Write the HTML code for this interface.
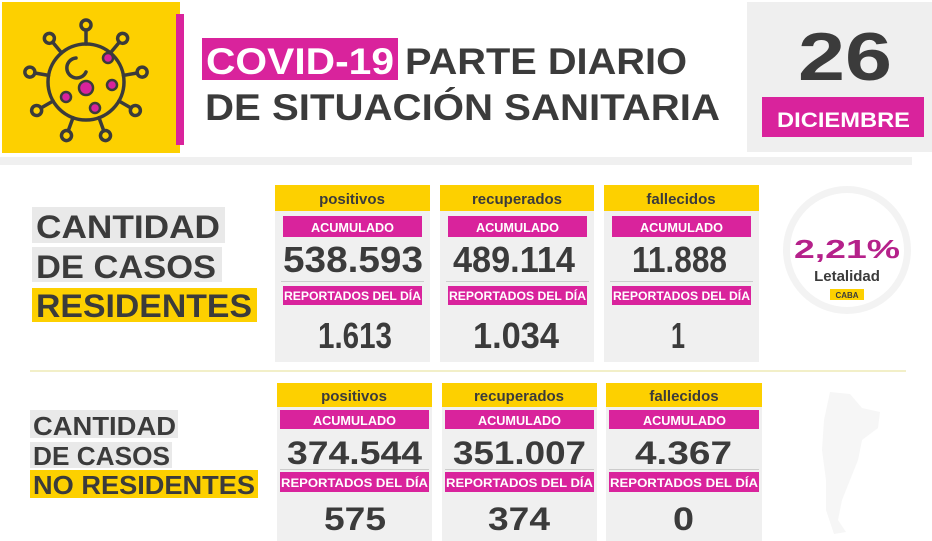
<!DOCTYPE html>
<html><head><meta charset="utf-8"><style>
html,body{margin:0;padding:0;background:#fff;}
svg{display:block;font-family:"Liberation Sans",sans-serif;font-weight:bold;}
</style></head><body>
<svg width="932" height="541" viewBox="0 0 932 541" xmlns="http://www.w3.org/2000/svg">
<rect width="932" height="541" fill="#fff"/>
<rect x="2" y="2" width="178" height="151" fill="#fdd000"/>
<rect x="176" y="14" width="8" height="131" fill="#d9239c"/>
<g stroke="#3b3b3b" stroke-width="3.5" fill="none" stroke-linecap="round">
<circle cx="86" cy="82" r="38"/>
<g id="sp">
<line x1="86" y1="44" x2="86" y2="30"/><circle cx="86" cy="25" r="5"/>
</g>
<use href="#sp" transform="rotate(40 86 82)"/><use href="#sp" transform="rotate(80 86 82)"/>
<use href="#sp" transform="rotate(120 86 82)"/><use href="#sp" transform="rotate(160 86 82)"/>
<use href="#sp" transform="rotate(200 86 82)"/><use href="#sp" transform="rotate(240 86 82)"/>
<use href="#sp" transform="rotate(280 86 82)"/><use href="#sp" transform="rotate(320 86 82)"/>
<path d="M76 58 a10 10 0 1 0 10 14"/>
</g>
<g fill="#d9239c" stroke="#3b3b3b" stroke-width="2.5">
<circle cx="108" cy="58" r="5"/><circle cx="86" cy="88" r="7"/><circle cx="112" cy="85" r="5"/>
<circle cx="66" cy="97" r="5"/><circle cx="95" cy="108" r="5"/>
</g>
<rect x="202" y="38" width="196" height="42" fill="#d9239c"/>
<text x="206" y="74" font-size="37" fill="#fff" textLength="188" lengthAdjust="spacingAndGlyphs">COVID-19</text>
<text x="405" y="74" font-size="37" fill="#3b3b3b" textLength="282" lengthAdjust="spacingAndGlyphs">PARTE DIARIO</text>
<text x="205" y="120" font-size="37" fill="#3b3b3b" textLength="515" lengthAdjust="spacingAndGlyphs">DE SITUACIÓN SANITARIA</text>
<rect x="747" y="2" width="185" height="150" fill="#efefef"/>
<text x="798" y="80" font-size="68" fill="#3b3b3b" textLength="94" lengthAdjust="spacingAndGlyphs">26</text>
<rect x="762" y="97" width="162" height="40" fill="#d9239c"/>
<text x="777" y="127" font-size="21" fill="#fff" textLength="133" lengthAdjust="spacingAndGlyphs">DICIEMBRE</text>
<rect x="0" y="157" width="912" height="8" fill="#f0f0f0"/>
<rect x="32" y="207" width="193" height="36" fill="#e9e9e9"/>
<rect x="32" y="247" width="190" height="35" fill="#e9e9e9"/>
<rect x="32" y="288" width="225" height="34" fill="#fdd000"/>
<text x="36" y="238" font-size="32" fill="#3b3b3b" textLength="184" lengthAdjust="spacingAndGlyphs">CANTIDAD</text>
<text x="36" y="278" font-size="32" fill="#3b3b3b" textLength="180" lengthAdjust="spacingAndGlyphs">DE CASOS</text>
<text x="36" y="317" font-size="32" fill="#3b3b3b" textLength="216" lengthAdjust="spacingAndGlyphs">RESIDENTES</text>
<g>
<rect x="275" y="185" width="155" height="177" fill="#f0f0f0"/>
<rect x="440" y="185" width="154" height="177" fill="#f0f0f0"/>
<rect x="604" y="185" width="155" height="177" fill="#f0f0f0"/>
<rect x="275" y="185" width="155" height="26" fill="#fdd000"/>
<rect x="440" y="185" width="154" height="26" fill="#fdd000"/>
<rect x="604" y="185" width="155" height="26" fill="#fdd000"/>
<g fill="#d9239c">
<rect x="283" y="216" width="139" height="21"/><rect x="448" y="216" width="139" height="21"/><rect x="612" y="216" width="139" height="21"/>
<rect x="283" y="286" width="139" height="19"/><rect x="448" y="286" width="139" height="19"/><rect x="612" y="286" width="139" height="19"/>
</g>
<g fill="#ccc"><rect x="281" y="281" width="143" height="1"/><rect x="446" y="281" width="143" height="1"/><rect x="610" y="281" width="143" height="1"/></g>
<g font-size="15" fill="#3b3b3b" text-anchor="middle">
<text x="352" y="204">positivos</text><text x="517" y="204">recuperados</text><text x="681" y="204">fallecidos</text>
</g>
<g font-size="13" fill="#fff">
<text x="311" y="232" textLength="83" lengthAdjust="spacingAndGlyphs">ACUMULADO</text>
<text x="476" y="232" textLength="83" lengthAdjust="spacingAndGlyphs">ACUMULADO</text>
<text x="640" y="232" textLength="83" lengthAdjust="spacingAndGlyphs">ACUMULADO</text>
<text x="284" y="300" font-size="12" textLength="137" lengthAdjust="spacingAndGlyphs">REPORTADOS DEL DÍA</text>
<text x="449" y="300" font-size="12" textLength="137" lengthAdjust="spacingAndGlyphs">REPORTADOS DEL DÍA</text>
<text x="613" y="300" font-size="12" textLength="137" lengthAdjust="spacingAndGlyphs">REPORTADOS DEL DÍA</text>
</g>
<g font-size="36" fill="#3b3b3b">
<text x="283" y="272" textLength="140" lengthAdjust="spacingAndGlyphs">538.593</text>
<text x="453" y="272" textLength="122" lengthAdjust="spacingAndGlyphs">489.114</text>
<text x="632" y="272" textLength="95" lengthAdjust="spacingAndGlyphs">11.888</text>
<text x="318" y="348" textLength="74" lengthAdjust="spacingAndGlyphs">1.613</text>
<text x="473" y="348" textLength="86" lengthAdjust="spacingAndGlyphs">1.034</text>
<text x="671" y="348" textLength="14" lengthAdjust="spacingAndGlyphs">1</text>
</g>
</g>
<circle cx="847" cy="250" r="64" fill="#f3f3f3"/>
<circle cx="847" cy="250" r="57" fill="#fff"/>
<text x="847" y="258" font-size="26" fill="#b5218a" text-anchor="middle" textLength="106" lengthAdjust="spacingAndGlyphs">2,21%</text>
<text x="847" y="281" font-size="15" fill="#3b3b3b" text-anchor="middle">Letalidad</text>
<rect x="830" y="289" width="34" height="11" fill="#fdd000"/>
<text x="847" y="298" font-size="8" fill="#3b3b3b" text-anchor="middle">CABA</text>
<rect x="30" y="370" width="876" height="2" fill="#f2efc8"/>
<rect x="30" y="410" width="148" height="28" fill="#e9e9e9"/>
<rect x="30" y="442" width="142" height="26" fill="#e9e9e9"/>
<rect x="30" y="470" width="228" height="28" fill="#fdd000"/>
<text x="33" y="435" font-size="26" fill="#3b3b3b" textLength="143" lengthAdjust="spacingAndGlyphs">CANTIDAD</text>
<text x="33" y="465" font-size="26" fill="#3b3b3b" textLength="137" lengthAdjust="spacingAndGlyphs">DE CASOS</text>
<text x="33" y="494" font-size="26" fill="#3b3b3b" textLength="222" lengthAdjust="spacingAndGlyphs">NO RESIDENTES</text>
<g>
<rect x="277" y="383" width="155" height="158" fill="#f0f0f0"/>
<rect x="442" y="383" width="155" height="158" fill="#f0f0f0"/>
<rect x="606" y="383" width="156" height="158" fill="#f0f0f0"/>
<rect x="277" y="383" width="155" height="24" fill="#fdd000"/>
<rect x="442" y="383" width="155" height="24" fill="#fdd000"/>
<rect x="606" y="383" width="156" height="24" fill="#fdd000"/>
<g fill="#d9239c">
<rect x="280" y="410" width="149" height="19"/><rect x="445" y="410" width="149" height="19"/><rect x="609" y="410" width="150" height="19"/>
<rect x="280" y="472" width="149" height="20"/><rect x="445" y="472" width="149" height="20"/><rect x="609" y="472" width="150" height="20"/>
</g>
<g fill="#ccc"><rect x="280" y="469" width="149" height="1"/><rect x="445" y="469" width="149" height="1"/><rect x="609" y="469" width="150" height="1"/></g>
<g font-size="15" fill="#3b3b3b" text-anchor="middle">
<text x="354" y="401">positivos</text><text x="519" y="401">recuperados</text><text x="684" y="401">fallecidos</text>
</g>
<g font-size="13" fill="#fff">
<text x="313" y="425" textLength="83" lengthAdjust="spacingAndGlyphs">ACUMULADO</text>
<text x="478" y="425" textLength="83" lengthAdjust="spacingAndGlyphs">ACUMULADO</text>
<text x="643" y="425" textLength="83" lengthAdjust="spacingAndGlyphs">ACUMULADO</text>
<text x="281" y="487" font-size="12" textLength="147" lengthAdjust="spacingAndGlyphs">REPORTADOS DEL DÍA</text>
<text x="446" y="487" font-size="12" textLength="147" lengthAdjust="spacingAndGlyphs">REPORTADOS DEL DÍA</text>
<text x="610" y="487" font-size="12" textLength="148" lengthAdjust="spacingAndGlyphs">REPORTADOS DEL DÍA</text>
</g>
<g font-size="32" fill="#3b3b3b">
<text x="287" y="464" textLength="135" lengthAdjust="spacingAndGlyphs">374.544</text>
<text x="453" y="464" textLength="133" lengthAdjust="spacingAndGlyphs">351.007</text>
<text x="635" y="464" textLength="97" lengthAdjust="spacingAndGlyphs">4.367</text>
<text x="324" y="530" textLength="62" lengthAdjust="spacingAndGlyphs">575</text>
<text x="488" y="530" textLength="62" lengthAdjust="spacingAndGlyphs">374</text>
<text x="673" y="530" textLength="21" lengthAdjust="spacingAndGlyphs">0</text>
</g>
</g>
<path d="M830 392 L850 394 L862 408 L880 412 L878 428 L862 440 L858 460 L850 480 L842 500 L838 520 L846 532 L834 534 L826 510 L826 480 L822 450 L824 420 Z" fill="#f6f6f6"/>
</svg>
</body></html>
